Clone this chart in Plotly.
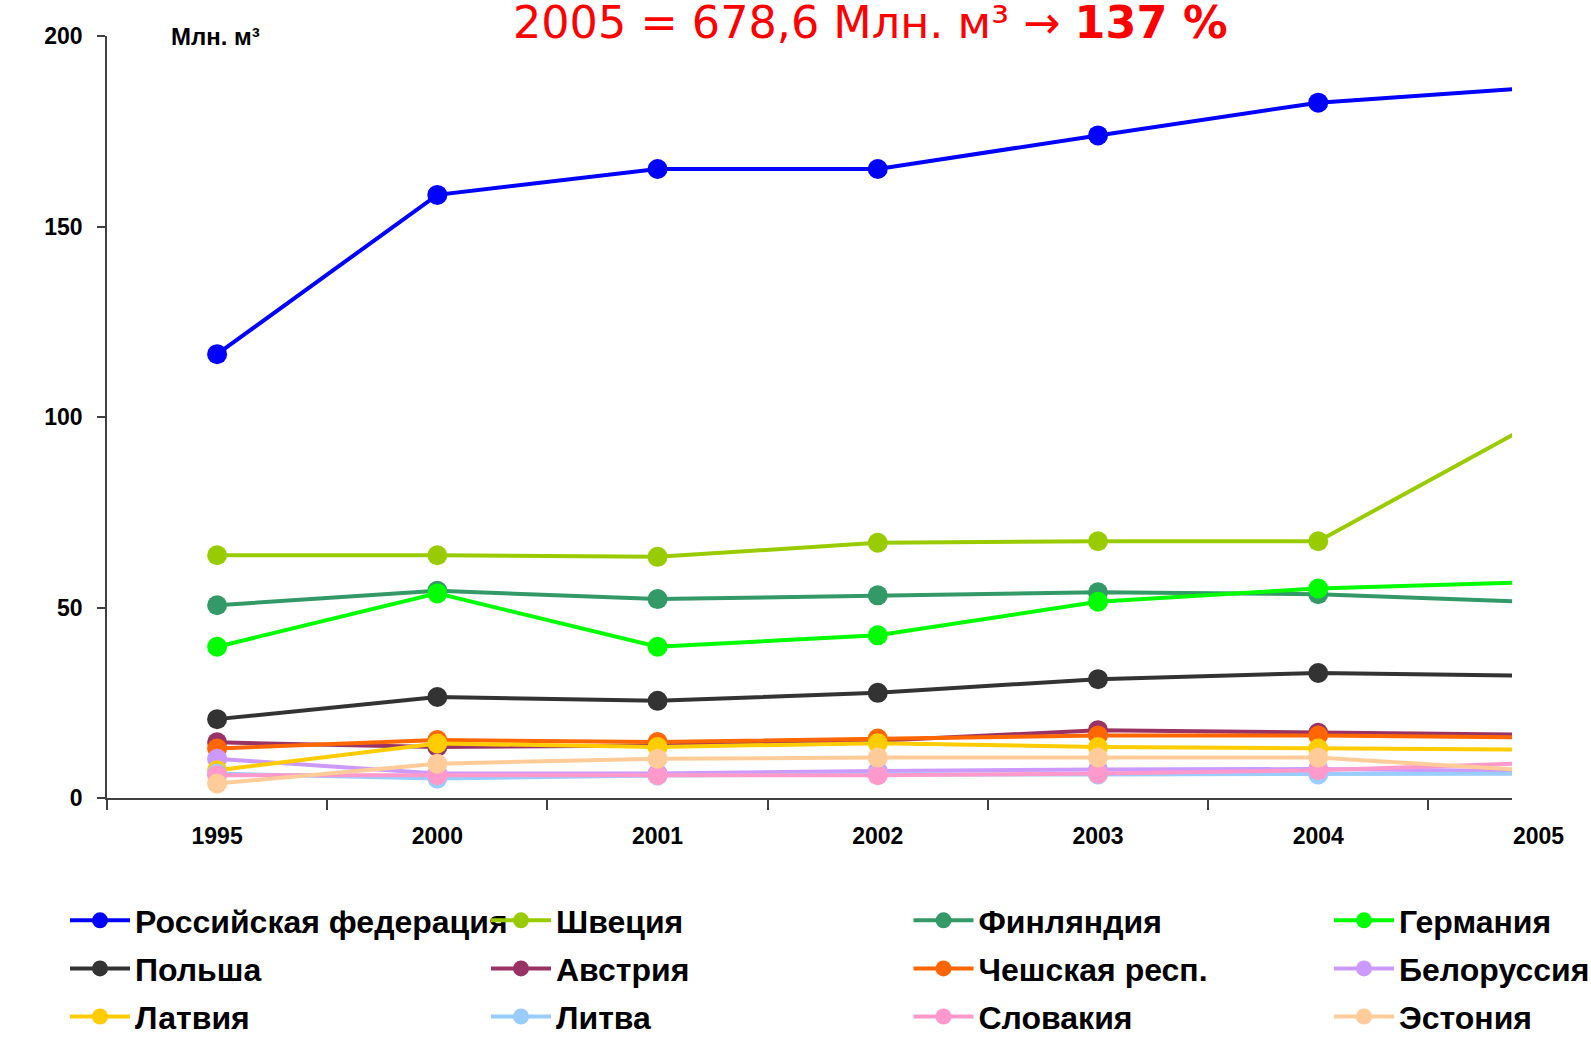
import plotly.graph_objects as go

# ---- data ----
years = ["1995", "2000", "2001", "2002", "2003", "2004", "2005"]
names = ["Российская федерация", "Швеция", "Финляндия", "Германия",
         "Польша", "Австрия", "Чешская респ.", "Белоруссия",
         "Латвия", "Литва", "Словакия", "Эстония"]
russia    = [116.5, 158.3, 165.1, 165.1, 173.9, 182.5, 186.5]
sweden    = [63.7, 63.7, 63.3, 67.0, 67.4, 67.4, 99.0]
finland   = [50.6, 54.4, 52.2, 53.2, 54.0, 53.5, 51.4]
germany   = [39.7, 53.7, 39.7, 42.7, 51.5, 55.0, 56.7]
poland    = [20.7, 26.5, 25.5, 27.6, 31.2, 32.8, 32.1]
austria   = [14.6, 13.4, 13.8, 15.0, 17.8, 17.1, 16.6]
czech     = [13.0, 15.2, 14.7, 15.6, 16.4, 16.4, 15.9]
belarus   = [10.3, 6.4, 6.4, 7.1, 7.5, 7.6, 7.0]
latvia    = [7.3, 14.3, 13.4, 14.4, 13.4, 13.0, 12.7]
lithuania = [6.4, 5.1, 5.9, 6.2, 6.2, 6.2, 6.4]
slovakia  = [6.0, 6.0, 6.0, 6.0, 6.4, 7.3, 9.2]
estonia   = [3.8, 9.0, 10.3, 10.6, 10.6, 10.6, 7.1]
series = [russia, sweden, finland, germany, poland, austria, czech,
          belarus, latvia, lithuania, slovakia, estonia]
colors = ["#0000FF", "#99CC00", "#339966", "#00FF00", "#333333", "#993366",
          "#FF6600", "#CC99FF", "#FFCC00", "#99CCFF", "#FF99CC", "#FFCC99"]
y_ticks = [0, 50, 100, 150, 200]
title_main = "2005 = 678,6 Млн. м³ → "
title_bold = "137 %"
unit_label = "Млн. м³"

W, H = 1591, 1042
L, R, T, B = 106.5, 1512, 36, 797.7
x_range = [-0.5, 5.88]

BOLD = "Liberation Sans"
legend_names = ["legend", "legend2", "legend3", "legend4"]

fig = go.Figure()
for i, (nm, vals, c) in enumerate(zip(names, series, colors)):
    fig.add_trace(go.Scatter(
        x=years, y=vals, name=nm, mode="lines+markers",
        line=dict(color=c, width=4),
        marker=dict(color=c, size=20),
        legend=legend_names[i % 4], legendgroup=nm,
    ))

col_x = [65, 486, 908.5, 1329]
legend_common = dict(
    orientation="v", xref="container", yref="container",
    xanchor="left", yanchor="top", bgcolor="rgba(0,0,0,0)",
    font=dict(family=BOLD, size=32, color="black", weight="bold"),
    itemwidth=60, tracegroupgap=3.5,
)
layout_legends = {}
for k, ln in enumerate(legend_names):
    layout_legends[ln] = dict(legend_common, x=col_x[k] / W, y=1 - 893 / H)

fig.update_layout(
    width=W, height=H,
    margin=dict(l=L, r=W - R, t=T, b=H - B, pad=0, autoexpand=False),
    paper_bgcolor="white", plot_bgcolor="white",
    showlegend=True,
    xaxis=dict(
        type="category", range=x_range, tickson="boundaries",
        showline=True, linecolor="#404040", linewidth=1.5,
        ticks="outside", ticklen=10, tickcolor="#404040", tickwidth=1.5,
        showgrid=False, zeroline=False, tickangle=0,
        tickfont=dict(family=BOLD, size=23, color="black", weight="bold"),
        ticklabelstandoff=17,
    ),
    yaxis=dict(
        range=[0, 200], tickvals=y_ticks,
        showline=True, linecolor="#404040", linewidth=1.5,
        ticks="outside", ticklen=8, tickcolor="#404040", tickwidth=1.5,
        showgrid=False, zeroline=False,
        tickfont=dict(family=BOLD, size=23, color="black", weight="bold"),
        ticklabelstandoff=10,
    ),
    **layout_legends,
)

# label for the last category (lies beyond the clipped plot edge)
pw = R - L
last_idx = len(years) - 1
fig.add_annotation(
    x=(last_idx - x_range[0]) / (x_range[1] - x_range[0]), xref="paper",
    y=-(836 - B) / (B - T), yref="paper",
    text=years[-1], showarrow=False, xanchor="center", yanchor="middle",
    font=dict(family=BOLD, size=23, color="black", weight="bold"),
)
fig.add_annotation(
    x=(169 - L) / pw, xref="paper", y=1.0, yref="paper",
    text=unit_label, showarrow=False, xanchor="left", yanchor="middle",
    font=dict(family=BOLD, size=24, color="black", weight="bold"),
)
fig.add_annotation(
    x=(870.5 - L) / pw, xref="paper", y=(B - 23) / (B - T), yref="paper",
    text=title_main + "<b>" + title_bold + "</b>", showarrow=False,
    xanchor="center", yanchor="middle",
    font=dict(family="DejaVu Sans", size=44.5, color="#FF0000"),
)

fig.write_html(
    "out.html",
    config={"displayModeBar": False},
    post_script="document.body.style.margin='0px';document.body.style.overflow='hidden';",
)
